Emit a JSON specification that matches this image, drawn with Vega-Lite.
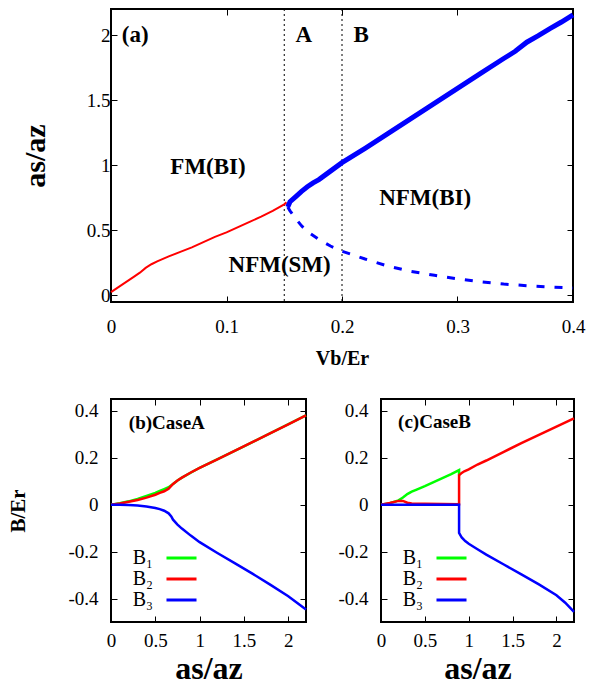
{
  "$schema": "https://vega.github.io/schema/vega-lite/v6.json",
  "background": "white",
  "padding": {"left": 6, "top": 3, "right": 5, "bottom": 2},
  "config": {
    "font": "Liberation Serif",
    "view": {"stroke": "black", "strokeWidth": 2},
    "axis": {"grid": false, "domain": false, "tickColor": "black", "tickSize": -6, "tickWidth": 1, "labelColor": "black", "labelFont": "Liberation Serif", "labelFontSize": 19, "labelFlush": false, "labelOverlap": false, "titleFont": "Liberation Serif", "titleColor": "black", "titleFontWeight": "bold", "labelPadding": 10},
    "legend": {"orient": "none", "legendX": 59.5, "legendY": 148, "title": null, "symbolType": "M-1.58,0H1.58", "symbolStrokeWidth": 3, "symbolSize": 361, "labelFontSize": 20, "labelFont": "Liberation Serif", "labelColor": "black", "padding": 0, "rowPadding": 0, "labelAlign": "right", "labelOffset": -39.5}
  },
  "datasets": {
    "red": [
      {"v":0,"a":0.026},{"v":0.01,"a":0.085},{"v":0.02,"a":0.145},{"v":0.025,"a":0.175},{"v":0.03,"a":0.212},{"v":0.035,"a":0.24},{"v":0.04,"a":0.262},{"v":0.05,"a":0.3},{"v":0.06,"a":0.335},{"v":0.07,"a":0.37},{"v":0.08,"a":0.41},{"v":0.09,"a":0.45},{"v":0.1,"a":0.485},{"v":0.11,"a":0.525},{"v":0.12,"a":0.565},{"v":0.13,"a":0.605},{"v":0.14,"a":0.65},{"v":0.15,"a":0.7},{"v":0.152,"a":0.715}
    ],
    "blueUp": [
      {"v":0.153,"a":0.68},{"v":0.155,"a":0.72},{"v":0.16,"a":0.76},{"v":0.165,"a":0.8},{"v":0.17,"a":0.835},{"v":0.175,"a":0.865},{"v":0.18,"a":0.89},{"v":0.19,"a":0.955},{"v":0.2,"a":1.02},{"v":0.22,"a":1.13},{"v":0.24,"a":1.245},{"v":0.26,"a":1.36},{"v":0.28,"a":1.475},{"v":0.3,"a":1.59},{"v":0.32,"a":1.705},{"v":0.34,"a":1.82},{"v":0.35,"a":1.875},{"v":0.36,"a":1.945},{"v":0.37,"a":1.995},{"v":0.38,"a":2.05},{"v":0.39,"a":2.1},{"v":0.4,"a":2.155}
    ],
    "blueLow": [
      {"v":0.153,"a":0.68},{"v":0.155,"a":0.65},{"v":0.16,"a":0.59},{"v":0.165,"a":0.535},{"v":0.17,"a":0.49},{"v":0.18,"a":0.43},{"v":0.19,"a":0.38},{"v":0.2,"a":0.34},{"v":0.22,"a":0.28},{"v":0.24,"a":0.225},{"v":0.26,"a":0.185},{"v":0.28,"a":0.155},{"v":0.3,"a":0.128},{"v":0.32,"a":0.105},{"v":0.34,"a":0.088},{"v":0.36,"a":0.075},{"v":0.38,"a":0.065},{"v":0.4,"a":0.058}
    ],
    "labelsTop": [
      {"v":0.021,"a":2.0,"t":"(a)"},{"v":0.167,"a":2.0,"t":"A"},{"v":0.2165,"a":2.0,"t":"B"},{"v":0.084,"a":0.99,"t":"FM(BI)"},{"v":0.146,"a":0.237,"t":"NFM(SM)"},{"v":0.272,"a":0.75,"t":"NFM(BI)"}
    ],
    "caseA": [
      {"i":1,"s":0,"B":0,"band":"B₁"},{"i":2,"s":0.1,"B":0.006,"band":"B₁"},{"i":3,"s":0.2,"B":0.014,"band":"B₁"},{"i":4,"s":0.3,"B":0.024,"band":"B₁"},{"i":5,"s":0.4,"B":0.037,"band":"B₁"},{"i":6,"s":0.5,"B":0.05,"band":"B₁"},{"i":7,"s":0.55,"B":0.058,"band":"B₁"},{"i":8,"s":0.6,"B":0.066,"band":"B₁"},{"i":9,"s":0.65,"B":0.074,"band":"B₁"},{"i":10,"s":0.7,"B":0.088,"band":"B₁"},{"i":11,"s":0.75,"B":0.103,"band":"B₁"},{"i":12,"s":0.8,"B":0.115,"band":"B₁"},{"i":13,"s":1.0,"B":0.157,"band":"B₁"},{"i":14,"s":1.5,"B":0.248,"band":"B₁"},{"i":15,"s":2.2,"B":0.38,"band":"B₁"},
      {"i":1,"s":0,"B":0,"band":"B₂"},{"i":2,"s":0.1,"B":0.005,"band":"B₂"},{"i":3,"s":0.2,"B":0.012,"band":"B₂"},{"i":4,"s":0.3,"B":0.02,"band":"B₂"},{"i":5,"s":0.4,"B":0.03,"band":"B₂"},{"i":6,"s":0.5,"B":0.042,"band":"B₂"},{"i":7,"s":0.55,"B":0.05,"band":"B₂"},{"i":8,"s":0.6,"B":0.057,"band":"B₂"},{"i":9,"s":0.65,"B":0.068,"band":"B₂"},{"i":10,"s":0.7,"B":0.088,"band":"B₂"},{"i":11,"s":0.75,"B":0.103,"band":"B₂"},{"i":12,"s":0.8,"B":0.115,"band":"B₂"},{"i":13,"s":0.9,"B":0.137,"band":"B₂"},{"i":14,"s":1.0,"B":0.157,"band":"B₂"},{"i":15,"s":1.2,"B":0.193,"band":"B₂"},{"i":16,"s":1.4,"B":0.23,"band":"B₂"},{"i":17,"s":1.6,"B":0.267,"band":"B₂"},{"i":18,"s":1.8,"B":0.305,"band":"B₂"},{"i":19,"s":2.0,"B":0.342,"band":"B₂"},{"i":20,"s":2.2,"B":0.38,"band":"B₂"},
      {"i":1,"s":0,"B":0,"band":"B₃"},{"i":2,"s":0.1,"B":-0.001,"band":"B₃"},{"i":3,"s":0.2,"B":-0.002,"band":"B₃"},{"i":4,"s":0.3,"B":-0.004,"band":"B₃"},{"i":5,"s":0.4,"B":-0.008,"band":"B₃"},{"i":6,"s":0.5,"B":-0.014,"band":"B₃"},{"i":7,"s":0.55,"B":-0.019,"band":"B₃"},{"i":8,"s":0.6,"B":-0.026,"band":"B₃"},{"i":9,"s":0.65,"B":-0.037,"band":"B₃"},{"i":10,"s":0.68,"B":-0.05,"band":"B₃"},{"i":11,"s":0.7,"B":-0.064,"band":"B₃"},{"i":12,"s":0.75,"B":-0.085,"band":"B₃"},{"i":13,"s":0.8,"B":-0.102,"band":"B₃"},{"i":14,"s":0.9,"B":-0.132,"band":"B₃"},{"i":15,"s":1.0,"B":-0.16,"band":"B₃"},{"i":16,"s":1.2,"B":-0.206,"band":"B₃"},{"i":17,"s":1.4,"B":-0.25,"band":"B₃"},{"i":18,"s":1.6,"B":-0.295,"band":"B₃"},{"i":19,"s":1.8,"B":-0.342,"band":"B₃"},{"i":20,"s":2.0,"B":-0.39,"band":"B₃"},{"i":21,"s":2.2,"B":-0.447,"band":"B₃"}
    ],
    "caseB": [
      {"i":1,"s":0,"B":0,"band":"B₁"},{"i":2,"s":0.1,"B":0.006,"band":"B₁"},{"i":3,"s":0.2,"B":0.018,"band":"B₁"},{"i":4,"s":0.25,"B":0.03,"band":"B₁"},{"i":5,"s":0.3,"B":0.045,"band":"B₁"},{"i":6,"s":0.35,"B":0.055,"band":"B₁"},{"i":7,"s":0.4,"B":0.063,"band":"B₁"},{"i":8,"s":0.5,"B":0.079,"band":"B₁"},{"i":9,"s":0.6,"B":0.096,"band":"B₁"},{"i":10,"s":0.7,"B":0.113,"band":"B₁"},{"i":11,"s":0.8,"B":0.13,"band":"B₁"},{"i":12,"s":0.89,"B":0.147,"band":"B₁"},{"i":13,"s":0.89,"B":0.125,"band":"B₁"},
      {"i":1,"s":0,"B":0,"band":"B₂"},{"i":2,"s":0.1,"B":0.007,"band":"B₂"},{"i":3,"s":0.2,"B":0.016,"band":"B₂"},{"i":4,"s":0.25,"B":0.016,"band":"B₂"},{"i":5,"s":0.3,"B":0.008,"band":"B₂"},{"i":6,"s":0.35,"B":0.005,"band":"B₂"},{"i":7,"s":0.5,"B":0.004,"band":"B₂"},{"i":8,"s":0.7,"B":0.003,"band":"B₂"},{"i":9,"s":0.89,"B":0.002,"band":"B₂"},{"i":10,"s":0.89,"B":0.125,"band":"B₂"},{"i":11,"s":0.92,"B":0.135,"band":"B₂"},{"i":12,"s":0.95,"B":0.142,"band":"B₂"},{"i":13,"s":1.0,"B":0.15,"band":"B₂"},{"i":14,"s":1.1,"B":0.171,"band":"B₂"},{"i":15,"s":1.2,"B":0.188,"band":"B₂"},{"i":16,"s":1.4,"B":0.225,"band":"B₂"},{"i":17,"s":1.6,"B":0.262,"band":"B₂"},{"i":18,"s":1.8,"B":0.297,"band":"B₂"},{"i":19,"s":2.0,"B":0.332,"band":"B₂"},{"i":20,"s":2.2,"B":0.367,"band":"B₂"},
      {"i":1,"s":0,"B":0,"band":"B₃"},{"i":2,"s":0.5,"B":0,"band":"B₃"},{"i":3,"s":0.89,"B":0,"band":"B₃"},{"i":4,"s":0.89,"B":-0.12,"band":"B₃"},{"i":5,"s":0.92,"B":-0.14,"band":"B₃"},{"i":6,"s":0.96,"B":-0.155,"band":"B₃"},{"i":7,"s":1.0,"B":-0.167,"band":"B₃"},{"i":8,"s":1.1,"B":-0.19,"band":"B₃"},{"i":9,"s":1.2,"B":-0.213,"band":"B₃"},{"i":10,"s":1.4,"B":-0.255,"band":"B₃"},{"i":11,"s":1.6,"B":-0.297,"band":"B₃"},{"i":12,"s":1.8,"B":-0.34,"band":"B₃"},{"i":13,"s":2.0,"B":-0.386,"band":"B₃"},{"i":14,"s":2.1,"B":-0.418,"band":"B₃"},{"i":15,"s":2.2,"B":-0.457,"band":"B₃"}
    ]
  },
  "vconcat": [
    {
      "width": 462, "height": 293,
      "layer": [
        {
          "layer": [
            {
              "data": {"values": [{"v":0.15},{"v":0.2}]},
              "mark": {"type": "rule", "color": "black", "strokeWidth": 1, "strokeDash": [2, 3]},
              "encoding": {"x": {"field": "v", "type": "quantitative"}}
            },
            {
              "data": {"name": "red"},
              "mark": {"type": "line", "color": "#ff0000", "strokeWidth": 2},
              "encoding": {
                "x": {"field": "v", "type": "quantitative", "scale": {"domain": [0, 0.4], "nice": false}, "axis": {"title": "Vb/Er", "values": [0, 0.1, 0.2, 0.3, 0.4], "format": "~g", "titleFontSize": 20, "labelPadding": 21, "titlePadding": 12}},
                "y": {"field": "a", "type": "quantitative", "scale": {"domain": [-0.05, 2.2], "nice": false}, "axis": {"title": "as/az", "values": [0, 0.5, 1, 1.5, 2], "format": "~g", "titleFontSize": 30, "labelPadding": 7, "titlePadding": 36}}
              }
            },
            {
              "data": {"name": "blueLow"},
              "mark": {"type": "line", "color": "#0000ff", "strokeWidth": 3, "strokeDash": [8, 10]},
              "encoding": {"x": {"field": "v", "type": "quantitative"}, "y": {"field": "a", "type": "quantitative"}}
            },
            {
              "data": {"name": "blueUp"},
              "mark": {"type": "line", "color": "#0000ff", "strokeWidth": 5},
              "encoding": {"x": {"field": "v", "type": "quantitative"}, "y": {"field": "a", "type": "quantitative"}}
            },
            {
              "data": {"name": "labelsTop"},
              "mark": {"type": "text", "font": "Liberation Serif", "fontWeight": "bold", "fontSize": 23, "color": "black", "align": "center", "baseline": "middle"},
              "encoding": {"x": {"field": "v", "type": "quantitative"}, "y": {"field": "a", "type": "quantitative"}, "text": {"field": "t"}}
            }
          ]
        },
        {
          "data": {"values": [{"v": 0, "a": 0}]},
          "mark": {"type": "point", "opacity": 0},
          "encoding": {
            "x": {"field": "v", "type": "quantitative", "scale": {"domain": [0, 0.4], "nice": false}, "axis": {"orient": "top", "labels": false, "title": null, "values": [0, 0.1, 0.2, 0.3, 0.4]}},
            "y": {"field": "a", "type": "quantitative", "scale": {"domain": [-0.05, 2.2], "nice": false}, "axis": {"orient": "right", "labels": false, "title": null, "values": [0, 0.5, 1, 1.5, 2]}}
          }
        }
      ],
      "resolve": {"axis": {"x": "independent", "y": "independent"}}
    },
    {
      "hconcat": [
        {
          "width": 195, "height": 223,
          "layer": [
            {
              "layer": [
                {
                  "data": {"name": "caseA"},
                  "mark": {"type": "line", "strokeWidth": 2.5},
                  "encoding": {
                    "x": {"field": "s", "type": "quantitative", "scale": {"domain": [0, 2.2], "nice": false}, "axis": {"title": "as/az", "values": [0, 0.5, 1, 1.5, 2], "format": "~g", "titleFontSize": 32, "labelPadding": 15, "titlePadding": 3}},
                    "y": {"field": "B", "type": "quantitative", "scale": {"domain": [-0.5, 0.45], "nice": false}, "axis": {"title": "B/Er", "values": [-0.4, -0.2, 0, 0.2, 0.4], "labelExpr": "replace(format(datum.value, '~g'), '−', '-')", "titleFontSize": 21, "labelPadding": 19, "titlePadding": 39}},
                    "color": {"field": "band", "type": "nominal", "scale": {"domain": ["B₁", "B₂", "B₃"], "range": ["#00ff00", "#ff0000", "#0000ff"]}},
                    "order": {"field": "i", "type": "quantitative"}
                  }
                },
                {
                  "data": {"values": [{"s": 0.63, "B": 0.347, "t": "(b)CaseA"}]},
                  "mark": {"type": "text", "font": "Liberation Serif", "fontWeight": "bold", "fontSize": 19, "color": "black", "align": "center", "baseline": "middle"},
                  "encoding": {"x": {"field": "s", "type": "quantitative"}, "y": {"field": "B", "type": "quantitative"}, "text": {"field": "t"}}
                }
              ]
            },
            {
              "data": {"values": [{"s": 0, "B": 0}]},
              "mark": {"type": "point", "opacity": 0},
              "encoding": {
                "x": {"field": "s", "type": "quantitative", "scale": {"domain": [0, 2.2], "nice": false}, "axis": {"orient": "top", "labels": false, "title": null, "values": [0, 0.5, 1, 1.5, 2]}},
                "y": {"field": "B", "type": "quantitative", "scale": {"domain": [-0.5, 0.45], "nice": false}, "axis": {"orient": "right", "labels": false, "title": null, "values": [-0.4, -0.2, 0, 0.2, 0.4]}}
              }
            }
          ],
          "resolve": {"axis": {"x": "independent", "y": "independent"}}
        },
        {
          "width": 193, "height": 223,
          "layer": [
            {
              "layer": [
                {
                  "data": {"name": "caseB"},
                  "mark": {"type": "line", "strokeWidth": 2.5},
                  "encoding": {
                    "x": {"field": "s", "type": "quantitative", "scale": {"domain": [0, 2.2], "nice": false}, "axis": {"title": "as/az", "values": [0, 0.5, 1, 1.5, 2], "format": "~g", "titleFontSize": 32, "labelPadding": 15, "titlePadding": 3}},
                    "y": {"field": "B", "type": "quantitative", "scale": {"domain": [-0.5, 0.45], "nice": false}, "axis": {"title": null, "values": [-0.4, -0.2, 0, 0.2, 0.4], "labelExpr": "replace(format(datum.value, '~g'), '−', '-')", "labelPadding": 19}},
                    "color": {"field": "band", "type": "nominal", "scale": {"domain": ["B₁", "B₂", "B₃"], "range": ["#00ff00", "#ff0000", "#0000ff"]}},
                    "order": {"field": "i", "type": "quantitative"}
                  }
                },
                {
                  "data": {"values": [{"s": 0.61, "B": 0.35, "t": "(c)CaseB"}]},
                  "mark": {"type": "text", "font": "Liberation Serif", "fontWeight": "bold", "fontSize": 19, "color": "black", "align": "center", "baseline": "middle"},
                  "encoding": {"x": {"field": "s", "type": "quantitative"}, "y": {"field": "B", "type": "quantitative"}, "text": {"field": "t"}}
                }
              ]
            },
            {
              "data": {"values": [{"s": 0, "B": 0}]},
              "mark": {"type": "point", "opacity": 0},
              "encoding": {
                "x": {"field": "s", "type": "quantitative", "scale": {"domain": [0, 2.2], "nice": false}, "axis": {"orient": "top", "labels": false, "title": null, "values": [0, 0.5, 1, 1.5, 2]}},
                "y": {"field": "B", "type": "quantitative", "scale": {"domain": [-0.5, 0.45], "nice": false}, "axis": {"orient": "right", "labels": false, "title": null, "values": [-0.4, -0.2, 0, 0.2, 0.4]}}
              }
            }
          ],
          "resolve": {"axis": {"x": "independent", "y": "independent"}}
        }
      ],
      "spacing": 24,
      "resolve": {"scale": {"color": "independent"}}
    }
  ],
  "spacing": 28
}
